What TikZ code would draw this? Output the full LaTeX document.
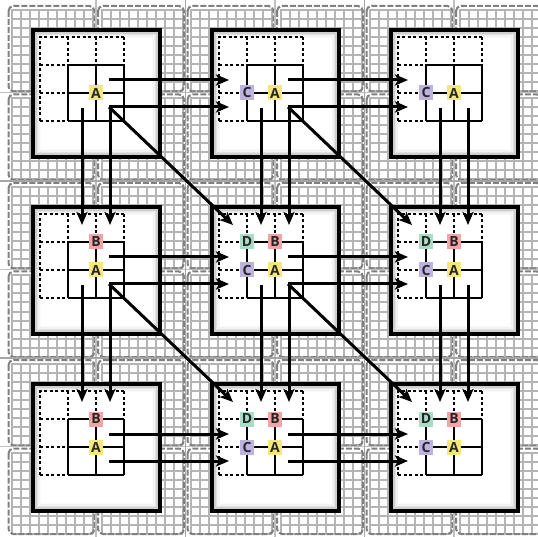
\documentclass[tikz,border=0pt]{standalone}
\usetikzlibrary{arrows.meta}
\usepackage{fontspec}
\setmainfont{Open Sans}
\definecolor{colA}{HTML}{F6E77C}
\definecolor{colB}{HTML}{F2A5A5}
\definecolor{colC}{HTML}{BEB2DF}
\definecolor{colD}{HTML}{A9DCC4}
\definecolor{bggrid}{HTML}{B4B4B4}
\definecolor{bgdash}{HTML}{808080}
\tikzset{
  bgline/.style={bggrid, line width=2pt},
  bgbox/.style={bgdash, line width=2pt, dash pattern=on 6pt off 2pt, rounded corners=5pt},
  sepline/.style={gray!70, line width=1.8pt},
  midline/.style={gray!50, line width=1.2pt},
  sqborder/.style={black, line width=3.5pt},
  gdash/.style={black, line width=1.6pt, dash pattern=on 3pt off 2.5pt},
  gsolid/.style={black, line width=1.6pt},
  lab/.style={inner sep=0pt, minimum width=14pt, minimum height=15pt, text=black!85, font=\fontsize{14}{14}\selectfont\bfseries},
  arr/.style={black, line width=3pt, -{Stealth[length=13pt,width=11pt,inset=3pt]}}
}
\begin{document}
\begin{tikzpicture}[x=1pt,y=-1pt]
\useasboundingbox (0,0) rectangle (538,537);
\fill[white] (0,0) rectangle (538,537);
\begin{scope}
\clip (0,0) rectangle (538,537);
% background pattern
\foreach \i in {0,...,5} {
  \foreach \j in {0,...,5} {
    \pgfmathsetmacro\qx{7+89.5*\i}
    \pgfmathsetmacro\qy{5+88.5*\j}
    \foreach \k in {0,...,9} {
      \draw[bgline] (\qx+5+9*\k,\qy+4) -- (\qx+5+9*\k,\qy+85);
      \draw[bgline] (\qx+4,\qy+5+9*\k) -- (\qx+86,\qy+5+9*\k);
    }
    \draw[bgbox] (\qx+1.5,\qy+1) rectangle (\qx+87.5,\qy+86.5);
  }
}
\foreach \m in {1,3,5} {
  \draw[midline] (7+89.5*\m-0.5,0) -- (7+89.5*\m-0.5,537);
  \draw[midline] (0,5+88.5*\m-1) -- (538,5+88.5*\m-1);
}
\foreach \m in {1,2} {
  \draw[sepline] (7+179*\m-0.5,0) -- (7+179*\m-0.5,537);
  \draw[sepline] (0,5+177*\m-1) -- (538,5+177*\m-1);
}
\end{scope}
% cells
\foreach \r in {0,1,2} {
  \foreach \c in {0,1,2} {
    \begin{scope}[shift={(33+179*\c,30+177*\r)}]
      \fill[white] (0,0) rectangle (127,127);
      \draw[gray!55, line width=1.6pt] (1.5,1.5) rectangle (125.5,125.5);
      \draw[gray!38, line width=1.6pt] (3,3) rectangle (124,124);
      \draw[gray!22, line width=1.6pt] (4.5,4.5) rectangle (122.5,122.5);
      \draw[gray!10, line width=1.6pt] (6,6) rectangle (121,121);
      \draw[gray!4, line width=1.6pt] (7.5,7.5) rectangle (119.5,119.5);
      \draw[sqborder] (0,0) rectangle (127,127);
      % inner grid
      \draw[gdash] (7,91) -- (7,7) -- (91,7);
      \draw[gdash] (7,35) -- (35,35) (7,63) -- (35,63) (7,91) -- (35,91);
      \draw[gdash] (35,7) -- (35,35) (63,7) -- (63,35) (91,7) -- (91,35);
      \draw[gsolid] (35,35) -- (91,35) (35,63) -- (91,63) (35,91) -- (91,91);
      \draw[gsolid] (35,35) -- (35,91) (63,35) -- (63,91) (91,35) -- (91,91);
      \node[lab, fill=colA] (A-\r\c) at (63,63) {A};
      \ifnum\c>0 \node[lab, fill=colC] (C-\r\c) at (35,63) {C}; \fi
      \ifnum\r>0 \node[lab, fill=colB] (B-\r\c) at (63,35) {B}; \fi
      \ifnum\r>0 \ifnum\c>0 \node[lab, fill=colD] (D-\r\c) at (35,35) {D}; \fi\fi
      % connector anchors
      \coordinate (hs1-\r\c) at (76,50);
      \coordinate (hs2-\r\c) at (76,77);
      \coordinate (vs1-\r\c) at (49,78);
      \coordinate (vs2-\r\c) at (77,78);
      \coordinate (ds-\r\c) at (76,77);
      \coordinate (ht1-\r\c) at (17,50);
      \coordinate (ht2-\r\c) at (17,77);
      \coordinate (vt1-\r\c) at (49,18);
      \coordinate (vt2-\r\c) at (77,18);
      \coordinate (dt-\r\c) at (21,18);
    \end{scope}
  }
}
% arrows
\foreach \a/\b in {00/01,01/02,10/11,11/12,20/21,21/22} {
  \draw[arr] (hs1-\a) -- (ht1-\b);
  \draw[arr] (hs2-\a) -- (ht2-\b);
}
\foreach \a/\b in {00/10,01/11,02/12,10/20,11/21,12/22} {
  \draw[arr] (vs1-\a) -- (vt1-\b);
  \draw[arr] (vs2-\a) -- (vt2-\b);
}
\foreach \a/\b in {00/11,01/12,10/21,11/22} {
  \draw[arr] (ds-\a) -- (dt-\b);
}
\end{tikzpicture}
\end{document}
